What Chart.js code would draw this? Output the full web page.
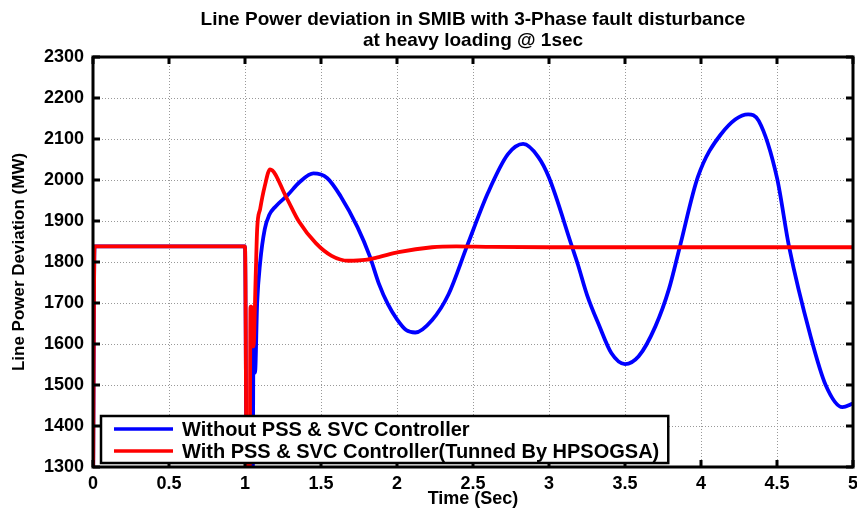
<!DOCTYPE html>
<html>
<head>
<meta charset="utf-8">
<script src="https://cdn.jsdelivr.net/npm/chart.js@4.4.0/dist/chart.umd.min.js"></script>
<style>
  html, body { margin: 0; padding: 0; background: #fff; }
</style>
</head>
<body>
<canvas id="myChart" width="857" height="510"></canvas>
<script>
// values (time in s, power in MW)
const blueTime = [0, 0.01, 1.0, 1.012, 1.05, 1.056, 1.066, 1.08, 1.1, 1.13, 1.16, 1.2, 1.28, 1.36, 1.45, 1.54, 1.63, 1.74, 1.82, 1.88, 1.94, 2.0, 2.06, 2.12, 2.23, 2.34, 2.46, 2.6, 2.73, 2.83, 2.93, 3.0, 3.15, 3.19, 3.25, 3.33, 3.41, 3.5, 3.59, 3.7, 3.79, 3.86, 3.98, 4.13, 4.31, 4.38, 4.5, 4.58, 4.72, 4.82, 4.93, 5.0];
const blueValue = [1200, 1838, 1838, 1200, 1200, 1600, 1530, 1700, 1800, 1880, 1915, 1935, 1963, 1995, 2016, 2005, 1960, 1885, 1815, 1748, 1697, 1660, 1634, 1628, 1658, 1722, 1838, 1970, 2063, 2088, 2056, 2006, 1839, 1794, 1720, 1645, 1578, 1551, 1570, 1643, 1735, 1836, 2008, 2111, 2160, 2144, 2005, 1836, 1620, 1500, 1446, 1455];

const redTime = [0, 0.01, 1.0, 1.012, 1.03, 1.036, 1.042, 1.05, 1.056, 1.07, 1.08, 1.1, 1.13, 1.165, 1.27, 1.356, 1.466, 1.57, 1.68, 1.79, 1.88, 2.01, 2.23, 2.39, 2.6, 3.0, 5.0];
const redValue = [1200, 1838, 1838, 1200, 1200, 1691, 1691, 1594, 1594, 1760, 1880, 1930, 1985, 2026, 1959, 1898, 1846, 1815, 1803, 1805, 1812, 1824, 1836, 1838, 1837, 1836, 1836];

const seriesLabels = ['Without PSS & SVC Controller', 'With PSS & SVC Controller(Tunned By HPSOGSA)'];
const titleLines = ['Line Power deviation in SMIB with 3-Phase fault disturbance', 'at heavy loading @ 1sec'];

const xMin = 0, xMax = 5, xStep = 0.5;
const yMin = 1300, yMax = 2300, yStep = 100;

const FONT = '"Liberation Sans", Arial, sans-serif';

function toPoints(t, v) {
  const pts = [];
  for (let i = 0; i < t.length; i++) pts.push({ x: t[i], y: v[i] });
  return pts;
}

// matlab-like box: thick frame, ticks pointing in, legend in lower left
const boxPlugin = {
  id: 'matlabBox',
  afterDatasetsDraw(chart) {
    const ctx = chart.ctx;
    const a = chart.chartArea;
    const x = chart.scales.x, y = chart.scales.y;
    ctx.save();
    ctx.strokeStyle = '#000';
    ctx.lineWidth = 3;
    ctx.beginPath();
    x.ticks.forEach(t => {
      const px = x.getPixelForValue(t.value);
      ctx.moveTo(px, a.bottom); ctx.lineTo(px, a.bottom - 7);
      ctx.moveTo(px, a.top); ctx.lineTo(px, a.top + 7);
    });
    y.ticks.forEach(t => {
      const py = y.getPixelForValue(t.value);
      ctx.moveTo(a.left, py); ctx.lineTo(a.left + 7, py);
      ctx.moveTo(a.right, py); ctx.lineTo(a.right - 7, py);
    });
    ctx.stroke();
    ctx.lineWidth = 3;
    ctx.strokeRect(a.left, a.top, a.right - a.left, a.bottom - a.top);

    // legend
    ctx.font = 'bold 20px ' + FONT;
    let textW = 0;
    seriesLabels.forEach(s => { textW = Math.max(textW, ctx.measureText(s).width); });
    const bx = a.left + 8, bh = 47, by = a.bottom - 4 - bh;
    const bw = 81 + textW + 9;
    ctx.fillStyle = '#fff';
    ctx.fillRect(bx, by, bw, bh);
    ctx.lineWidth = 2.5;
    ctx.strokeRect(bx, by, bw, bh);
    chart.data.datasets.forEach((ds, i) => {
      const ly = by + 13 + i * 22;
      ctx.strokeStyle = ds.borderColor;
      ctx.lineWidth = 3.5;
      ctx.beginPath();
      ctx.moveTo(bx + 13, ly); ctx.lineTo(bx + 72, ly);
      ctx.stroke();
      ctx.fillStyle = '#000';
      ctx.textBaseline = 'middle';
      ctx.fillText(ds.label, bx + 81, ly + 1);
    });
    ctx.restore();
  }
};

const ctx = document.getElementById('myChart');

new Chart(ctx, {
  type: 'line',
  data: {
    datasets: [{
      label: seriesLabels[0],
      data: toPoints(blueTime, blueValue),
      borderColor: '#0000ff',
      borderWidth: 3.8,
      pointRadius: 0,
      cubicInterpolationMode: 'monotone',
      order: 1
    }, {
      label: seriesLabels[1],
      data: toPoints(redTime, redValue),
      borderColor: '#ff0000',
      borderWidth: 3.8,
      pointRadius: 0,
      cubicInterpolationMode: 'monotone',
      order: 0
    }]
  },
  options: {
    responsive: false,
    animation: false,
    layout: { padding: { left: 0, right: 4, top: 0, bottom: 0 } },
    plugins: {
      legend: { display: false },
      tooltip: { enabled: false },
      title: {
        display: true,
        text: titleLines,
        fullSize: false,
        color: '#000',
        font: { family: FONT, size: 19, weight: 'bold', lineHeight: 1.1 },
        padding: { top: 9, bottom: 6.2 }
      }
    },
    scales: {
      x: {
        type: 'linear',
        min: xMin, max: xMax,
        afterFit: s => { s.height = 43; s.paddingLeft = 0; s.paddingRight = 0; },
        ticks: {
          stepSize: xStep, color: '#000', padding: 6, maxRotation: 0,
          font: { family: FONT, size: 18, weight: 'bold' },
          callback: v => String(v)
        },
        grid: { color: '#999', lineWidth: 1, drawTicks: false },
        border: { display: false, dash: [1, 2] },
        title: { display: true, text: 'Time (Sec)', color: '#000', padding: { top: 0, bottom: 0 }, font: { family: FONT, size: 18, weight: 'bold' } }
      },
      y: {
        min: yMin, max: yMax,
        afterFit: s => { s.width = 93; s.paddingTop = 0; s.paddingBottom = 0; },
        ticks: {
          stepSize: yStep, color: '#000', padding: 9,
          font: { family: FONT, size: 18, weight: 'bold' },
          callback: v => String(v)
        },
        grid: { color: '#999', lineWidth: 1, drawTicks: false },
        border: { display: false, dash: [1, 2] },
        title: { display: true, text: 'Line Power Deviation (MW)', color: '#000', padding: { top: 9, bottom: 0 }, font: { family: FONT, size: 17, weight: 'bold' } }
      }
    }
  },
  plugins: [boxPlugin]
});
</script>
</body>
</html>
